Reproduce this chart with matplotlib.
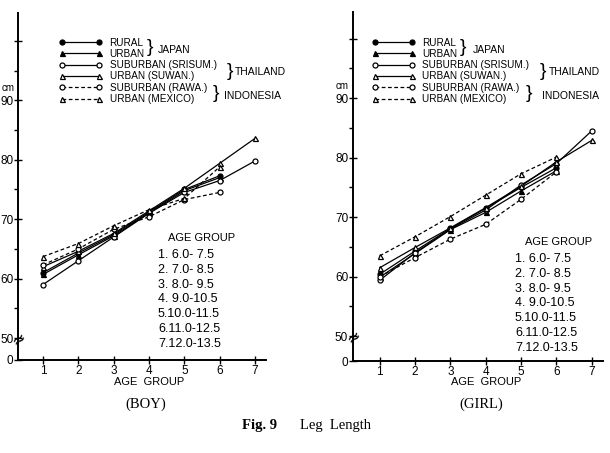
import numpy as np
import matplotlib
matplotlib.use('Agg')
import matplotlib.pyplot as plt

# ---------------- data ----------------
age_groups = [1, 2, 3, 4, 5, 6, 7]
age_ranges = ['6.0- 7.5', '7.0- 8.5', '8.0- 9.5', '9.0-10.5', '10.0-11.5', '11.0-12.5', '12.0-13.5']
series_labels = ['RURAL', 'URBAN', 'SUBURBAN (SRISUM.)', 'URBAN (SUWAN.)',
                 'SUBURBAN (RAWA.)', 'URBAN (MEXICO)']
group_labels = ['JAPAN', 'THAILAND', 'INDONESIA']

boy_rural   = [61.0, 64.3, 67.4, 71.2, 75.0, 77.3]
boy_urban   = [60.7, 64.0, 67.2, 71.0, 74.8, 77.0]
boy_srisum  = [59.0, 63.0, 67.0, 71.0, 74.5, 76.5, 79.8]
boy_suwan   = [62.0, 64.6, 67.6, 71.4, 75.2, 79.4, 83.6]
boy_rawa    = [62.3, 65.0, 68.3, 70.4, 73.3, 74.5]
boy_mexico  = [63.7, 65.9, 68.9, 71.6, 73.5, 78.8]

girl_rural  = [60.4, 64.3, 68.1, 71.5, 75.0, 78.3]
girl_urban  = [59.9, 63.9, 67.9, 70.8, 74.4, 77.8]
girl_srisum = [59.4, 64.0, 68.0, 71.2, 75.4, 79.0, 84.5]
girl_suwan  = [61.5, 64.9, 68.2, 71.6, 75.2, 79.3, 82.9]
girl_rawa   = [60.0, 63.2, 66.3, 68.8, 73.0, 77.6]
girl_mexico = [63.5, 66.7, 70.1, 73.7, 77.3, 80.1]

boy_series = [boy_rural, boy_urban, boy_srisum, boy_suwan, boy_rawa, boy_mexico]
girl_series = [girl_rural, girl_urban, girl_srisum, girl_suwan, girl_rawa, girl_mexico]

# ---------------- styles ----------------
LETTER = ['Liberation Sans', 'DejaVu Sans']
SERIF = ['Liberation Serif', 'DejaVu Serif']
styles = [
    dict(marker='o', mfc='black', ls='-'),
    dict(marker='^', mfc='black', ls='-'),
    dict(marker='o', mfc='white', ls='-'),
    dict(marker='^', mfc='white', ls='-'),
    dict(marker='o', mfc='white', ls=(0, (3, 2))),
    dict(marker='^', mfc='white', ls=(0, (3, 2))),
]

W, H = 610, 453
fig = plt.figure(figsize=(W / 100, H / 100), dpi=100)


def fx(px):
    return px / W


def fy(py):
    return 1 - py / H


def make_scale(z0):
    def fwd(v):
        v = np.asarray(v, dtype=float)
        return np.where(v >= 50, v, z0 + v * (50 - z0) / 50)

    def inv(u):
        u = np.asarray(u, dtype=float)
        return np.where(u >= 50, u, (u - z0) * 50 / (50 - z0))
    return fwd, inv


def panel(rect, series, z0, ytop, xlim, legend_dx, name, xlab_px, name_px,
          grp_px, age_px):
    ax = fig.add_axes(rect)
    ax.set_yscale('function', functions=make_scale(z0))
    handles = []
    for vals, st in zip(series, styles):
        x = age_groups[:len(vals)]
        h, = ax.plot(x, vals, color='black', lw=0.9, ls=st['ls'],
                     marker=st['marker'], ms=3.6, mfc=st['mfc'], mec='black',
                     mew=0.9, clip_on=False)
        handles.append(h)
    ax.set_xlim(*xlim)
    ax.set_ylim(0, ytop)
    for s in ['top', 'right']:
        ax.spines[s].set_visible(False)
    for s in ['left', 'bottom']:
        ax.spines[s].set_linewidth(1.4)
    ax.set_xticks(age_groups)
    ax.set_xticklabels([str(a) for a in age_groups], fontfamily=LETTER, fontsize=8.5)
    ax.set_yticks([0, 50, 60, 70, 80, 90, 100])
    ax.set_yticklabels(['0', '50', '60', '70', '80', '90', ''], fontfamily=LETTER,
                       fontsize=8.5)
    ax.set_yticks([55, 65, 75, 85, 95], minor=True)
    ax.tick_params(axis='both', which='major', direction='inout', length=6,
                   width=1.0, pad=0.5)
    ax.tick_params(axis='y', which='minor', direction='out', length=3, width=1.0)
    # axis break marks
    ax.text(xlim[0], 47.4, '≈', rotation=35, ha='center', va='center',
            fontsize=12, fontfamily=['DejaVu Sans'])
    # unit
    ax.annotate('cm', xy=(xlim[0], 90), xytext=(-3, 5), textcoords='offset points',
                ha='right', va='bottom', fontsize=7, fontfamily=LETTER)

    # legend
    fig.legend(handles, series_labels, loc='upper left',
               bbox_to_anchor=(fx(59 + legend_dx), fy(37.5)),
               frameon=False, numpoints=2, handlelength=4.3,
               handletextpad=0.75, labelspacing=0.13, borderpad=0,
               borderaxespad=0,
               prop=dict(family=LETTER, size=7.2))
    # braces and groups
    bx = [(150, 48), (230, 71), (216, 94)]
    for (bpx, bpy), (gpx, gpy), g in zip(bx, grp_px, group_labels):
        fig.text(fx(bpx + legend_dx), fy(bpy), '}', ha='center', va='center',
                 fontsize=14, fontfamily=LETTER)
        fig.text(fx(gpx + legend_dx), fy(gpy), g, ha='left', va='center',
                 fontsize=7.5, fontfamily=LETTER)

    # age group key
    ax_x, ax_y = age_px
    fig.text(fx(ax_x + 10), fy(ax_y), 'AGE GROUP', ha='left', va='center',
             fontsize=8, fontfamily=LETTER)
    for i, r in enumerate(age_ranges):
        lab = f'{i + 1}.{" " if len(r.split("-")[0]) < 4 else ""}{r}'
        fig.text(fx(ax_x), fy(ax_y + 17 + 14.8 * i), lab, ha='left', va='center',
                 fontsize=9, fontfamily=LETTER)

    fig.text(fx(xlab_px[0]), fy(xlab_px[1]), 'AGE  GROUP', ha='center',
             va='center', fontsize=8, fontfamily=LETTER)
    fig.text(fx(name_px[0]), fy(name_px[1]), name, ha='center', va='center',
             fontsize=10.5, fontfamily=SERIF)
    return ax


# left panel (BOY)
panel([fx(18.3), fy(360), fx(265.6) - fx(18.3), fy(13) - fy(360)],
      boy_series, 46.3, 104.7, (0.3, 7.3), 0, '(BOY)',
      (149, 382), (146, 404),
      [(158, 50), (235, 72), (224, 96)], (158, 238))

# right panel (GIRL)
panel([fx(353), fy(361), fx(603) - fx(353), fy(12) - fy(361)],
      girl_series, 45.8, 104.5, (0.24, 7.32), 313, '(GIRL)',
      (486, 382), (481, 404),
      [(160, 50), (236, 72), (229, 96)], (515, 242))

fig.text(fx(242), fy(425), 'Fig. 9', ha='left', va='center', fontsize=10.5,
         fontfamily=SERIF, fontweight='bold')
fig.text(fx(300), fy(425), 'Leg  Length', ha='left', va='center', fontsize=10.5,
         fontfamily=SERIF)

fig.savefig('out.png', dpi=100)
